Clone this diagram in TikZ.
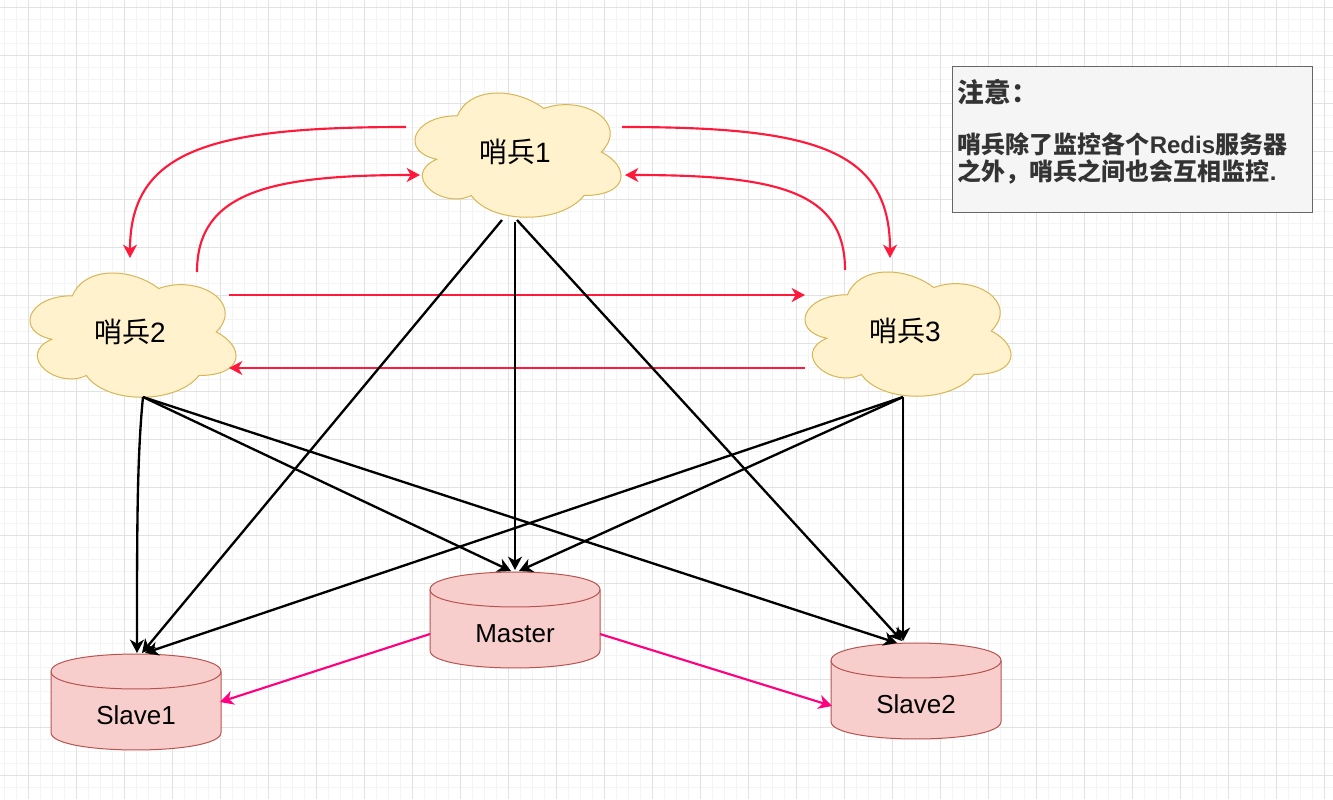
\documentclass[tikz,border=0pt]{standalone}
\usepackage{fontspec}
\setmainfont{Liberation Sans}
\newfontfamily\cjk{Noto Sans CJK SC}
\usetikzlibrary{arrows.meta,calc,backgrounds}

\definecolor{cloudfill}{HTML}{FFF2CC}
\definecolor{cloudline}{HTML}{D6B656}
\definecolor{dbfill}{HTML}{F8CECC}
\definecolor{dbline}{HTML}{B85450}
\definecolor{watchred}{HTML}{FF1A3C}
\definecolor{syncpink}{HTML}{FF0080}
\definecolor{notefill}{HTML}{F5F5F5}
\definecolor{noteline}{HTML}{666666}
\definecolor{notefont}{HTML}{333333}
\definecolor{gridmajor}{HTML}{E2E2E2}
\definecolor{gridminor}{HTML}{F4F4F4}

\newcommand{\dblabel}[1]{\raisebox{-10pt}[\height][\depth]{#1}}
% cloud outline, 230 x 145 around the centre
\newcommand{\cloudpath}{(-57.5,-36.25) .. controls (-103.5,-36.25) and (-115,0) .. (-78.2,7.25)
  .. controls (-115,23.2) and (-73.6,58) .. (-43.7,43.5)
  .. controls (-23,72.5) and (46,72.5) .. (69,43.5)
  .. controls (115,43.5) and (115,14.5) .. (86.25,0)
  .. controls (115,-29) and (69,-58) .. (28.75,-43.5)
  .. controls (0,-65.25) and (-46,-65.25) .. (-57.5,-36.25) -- cycle}
% drum outline, 170 x 96 around the centre
\newcommand{\drumpath}{(-85,-30.5) -- (-85,30.5) .. controls (-85,53.8) and (85,53.8) .. (85,30.5)
  -- (85,-30.5) .. controls (85,-53.8) and (-85,-53.8) .. (-85,-30.5) -- cycle}
\newcommand{\drumlid}{(-85,-30.5) .. controls (-85,-7.2) and (85,-7.2) .. (85,-30.5)}

\tikzset{
  sentinel/.style={inner sep=0pt, font=\fontsize{21}{24}\selectfont},
  redisdb/.style={inner sep=0pt, font=\fontsize{19.5}{22}\selectfont},
  cloudshape/.style={fill=cloudfill, draw=cloudline, line width=0.75pt},
  drumshape/.style={fill=dbfill, draw=dbline, line width=0.75pt},
  notebox/.style={draw=noteline, fill=notefill, line width=0.75pt,
    minimum width=270pt, minimum height=108.75pt},
  notewords/.style={text=notefont, align=left, inner sep=0pt,
    font=\bfseries\fontsize{18}{20.5}\selectfont},
  tip/.style={-{Stealth[length=10pt,width=10.5pt,inset=3pt]}},
  watch/.style={tip, draw=watchred, line width=1.6pt},
  monitor/.style={tip, draw=black, line width=1.75pt},
  sync/.style={tip, draw=syncpink, line width=1.6pt}
}

\begin{document}
\begin{tikzpicture}[x=0.75pt, y=-0.75pt]
  \useasboundingbox (0,0) rectangle (1333,799);

  % grid
  \begin{scope}[on background layer]
    \fill[white] (0,0) rectangle (1333,799);
    \foreach \gx in {4.5,16.5,...,1333}
      \draw[gridminor, line width=0.75pt] (\gx,0) -- (\gx,799);
    \foreach \gy in {7.5,19.5,...,799}
      \draw[gridminor, line width=0.75pt] (0,\gy) -- (1333,\gy);
    \foreach \gx in {28.5,76.5,...,1333}
      \draw[gridmajor, line width=0.75pt] (\gx,0) -- (\gx,799);
    \foreach \gy in {7.5,55.5,...,799}
      \draw[gridmajor, line width=0.75pt] (0,\gy) -- (1333,\gy);
  \end{scope}

  % sentinels
  \node[sentinel] (s1) at (515,152) {{\cjk 哨兵}1};
  \node[sentinel] (s2) at (130,332) {{\cjk 哨兵}2};
  \node[sentinel] (s3) at (905,331) {{\cjk 哨兵}3};

  % redis servers
  \node[redisdb] (master) at (515,620) {\dblabel{Master}};
  \node[redisdb] (slave1) at (136,702) {\dblabel{Slave1}};
  \node[redisdb] (slave2) at (916,691) {\dblabel{Slave2}};

  \begin{scope}[on background layer]
    \foreach \n in {s1,s2,s3}
      \filldraw[cloudshape, shift={(\n.center)}] \cloudpath;
    \foreach \n in {master,slave1,slave2} {
      \filldraw[drumshape, shift={(\n.center)}] \drumpath;
      \draw[drumshape, fill=none, shift={(\n.center)}] \drumlid;
    }
  \end{scope}

  % note
  \node[notebox] (note) at (1132,139.5) {};
  \node[notewords, anchor=north west] (notetext) at ([shift={(6,13)}]note.north west)
    {{\fontsize{20}{24}\selectfont\cjk\bfseries 注意：}\\[17.5pt]
     {\cjk 哨兵除了监控各个}Redis{\cjk 服务器}\\
     {\cjk 之外，哨兵之间也会互相监控}.};

  % sentinels watch each other
  \draw[watch] ([shift={(-109,-25)}]s1.center) .. controls +(-190,0) and +(0,-110) .. ([shift={(0,-74)}]s2.center);
  \draw[watch] ([shift={(67,-60)}]s2.center) .. controls +(0,-80) and +(-150,0) .. ([shift={(-95,23)}]s1.center);
  \draw[watch] ([shift={(107,-25)}]s1.center) .. controls +(190,0) and +(0,-110) .. ([shift={(-15,-73)}]s3.center);
  \draw[watch] ([shift={(-60,-61)}]s3.center) .. controls +(0,-80) and +(150,0) .. ([shift={(110,23)}]s1.center);
  \draw[watch] ([shift={(99,-37)}]s2.center) -- ([shift={(-100,-36)}]s3.center);
  \draw[watch] ([shift={(-100,37)}]s3.center) -- ([shift={(99,36)}]s2.center);

  % sentinels monitor servers
  \draw[monitor] ([shift={(-13,68)}]s1.center) -- ([shift={(6,-49)}]slave1.center);
  \draw[monitor] ([shift={(0,70)}]s1.center) -- ([shift={(0,-50)}]master.center);
  \draw[monitor] ([shift={(2,68)}]s1.center) -- ([shift={(-14,-50)}]slave2.center);
  \draw[monitor] ([shift={(13,65)}]s2.center) .. controls +(-6,60) and +(0,-120) .. ([shift={(1,-49)}]slave1.center);
  \draw[monitor] ([shift={(13,65)}]s2.center) -- ([shift={(-4,-49)}]master.center);
  \draw[monitor] ([shift={(13,65)}]s2.center) -- ([shift={(-19,-48)}]slave2.center);
  \draw[monitor] ([shift={(-2,66)}]s3.center) -- ([shift={(-13,-50)}]slave2.center);
  \draw[monitor] ([shift={(-2,66)}]s3.center) -- ([shift={(4,-49)}]master.center);
  \draw[monitor] ([shift={(-2,66)}]s3.center) -- ([shift={(9,-49)}]slave1.center);

  % replication
  \draw[sync] ([shift={(-85,14)}]master.center) -- ([shift={(84,0)}]slave1.center);
  \draw[sync] ([shift={(85,14)}]master.center) -- ([shift={(-84,15)}]slave2.center);
\end{tikzpicture}
\end{document}
